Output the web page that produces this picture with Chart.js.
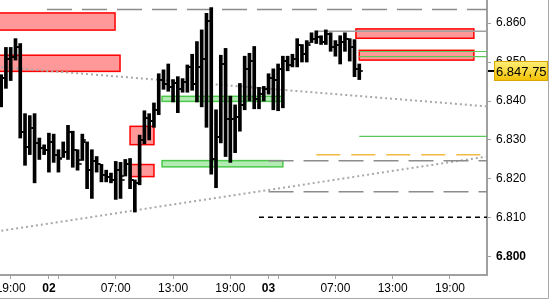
<!DOCTYPE html>
<html>
<head>
<meta charset="utf-8">
<script src="https://cdn.jsdelivr.net/npm/chart.js@4"></script>
<style>
  html, body { margin: 0; padding: 0; background: #fff; }
</style>
</head>
<body>
<canvas id="priceChart" width="550" height="300"></canvas>
<script>
// 30 minute bars, x = bar number (0 = 19:00 of day 01)
const barIndex = Array.from({ length: 76 }, (_, k) => k - 2);

const opens = [
  6840.5, 6846.0, 6850.75, 6851.25, 6853.75, 6832.0, 6828.25, 6833.0, 6829.25, 6828.0,
  6827.5, 6829.5, 6826.25, 6825.5, 6827.0, 6832.0, 6827.5, 6824.75, 6829.5, 6822.25,
  6824.5, 6823.75, 6821.0, 6820.5, 6819.75, 6822.25, 6820.75, 6823.75, 6819.75, 6819.0,
  6830.0, 6835.75, 6834.75, 6837.75, 6845.5, 6844.25, 6843.5, 6844.5, 6843.0, 6845.0,
  6848.75, 6844.25, 6848.75, 6850.75, 6860.5, 6825.0, 6830.75, 6849.5, 6835.5, 6835.5,
  6836.0, 6839.0, 6848.25, 6850.25, 6840.5, 6841.75, 6843.0, 6846.0, 6845.5, 6848.25,
  6850.25, 6849.25, 6850.75, 6854.5, 6852.0, 6855.0, 6856.0, 6856.5, 6855.25, 6857.25,
  6853.75, 6854.5, 6855.25, 6856.0, 6853.75, 6848.25
];
const highs = [
  6846.75, 6853.75, 6853.75, 6856.0, 6854.75, 6836.75, 6836.25, 6836.75, 6830.5, 6828.75,
  6831.75, 6831.5, 6827.5, 6829.5, 6833.75, 6832.25, 6827.5, 6831.5, 6829.5, 6827.5,
  6825.75, 6823.75, 6822.25, 6821.5, 6824.5, 6824.25, 6825.0, 6825.25, 6819.75, 6831.25,
  6837.5, 6836.75, 6839.5, 6847.0, 6848.0, 6849.5, 6845.5, 6846.25, 6845.75, 6849.25,
  6852.0, 6855.25, 6858.25, 6862.5, 6864.0, 6837.75, 6851.75, 6853.5, 6841.25, 6839.0,
  6844.5, 6851.5, 6852.25, 6854.0, 6843.5, 6843.75, 6847.0, 6848.25, 6849.5, 6851.5,
  6851.5, 6852.0, 6856.0, 6854.5, 6855.5, 6857.5, 6858.0, 6856.75, 6858.25, 6857.5,
  6855.5, 6856.75, 6857.5, 6856.0, 6855.75, 6849.5
];
const lows = [
  6838.5, 6843.25, 6845.25, 6850.5, 6830.5, 6823.5, 6826.25, 6819.0, 6825.0, 6826.25,
  6821.75, 6824.25, 6821.75, 6825.5, 6825.0, 6823.0, 6822.25, 6824.75, 6817.5, 6815.0,
  6821.75, 6819.25, 6819.25, 6819.0, 6814.75, 6815.0, 6820.75, 6817.5, 6811.5, 6818.5,
  6829.0, 6830.0, 6833.25, 6836.5, 6843.0, 6842.5, 6839.75, 6837.0, 6842.25, 6842.25,
  6842.75, 6839.75, 6838.5, 6833.25, 6821.25, 6817.75, 6829.25, 6825.75, 6824.25, 6826.75,
  6832.25, 6837.75, 6840.0, 6838.0, 6838.0, 6840.0, 6841.75, 6837.75, 6837.5, 6838.25,
  6847.75, 6848.75, 6848.75, 6850.0, 6850.0, 6855.0, 6854.75, 6854.5, 6854.5, 6852.75,
  6851.5, 6849.5, 6852.75, 6850.25, 6846.25, 6845.5
];
const closes = [
  6846.0, 6850.75, 6851.25, 6853.75, 6832.0, 6828.25, 6833.0, 6829.25, 6828.0, 6827.5,
  6829.5, 6826.25, 6825.0, 6827.0, 6832.0, 6827.5, 6823.75, 6830.0, 6822.25, 6824.5,
  6823.75, 6821.0, 6820.5, 6819.75, 6822.25, 6819.75, 6823.75, 6819.75, 6819.0, 6830.0,
  6835.75, 6834.75, 6837.75, 6845.5, 6844.25, 6843.5, 6844.5, 6843.0, 6845.0, 6848.75,
  6844.25, 6848.75, 6850.75, 6860.5, 6825.0, 6830.75, 6849.5, 6835.5, 6835.5, 6836.0,
  6839.0, 6848.25, 6850.25, 6840.5, 6841.75, 6843.0, 6846.0, 6845.5, 6848.25, 6850.25,
  6849.25, 6850.75, 6854.5, 6852.0, 6854.5, 6856.0, 6856.5, 6855.25, 6857.25, 6853.75,
  6854.5, 6855.25, 6856.0, 6853.75, 6848.25, 6847.75
];

// axis ticks
const yTicks = [6800, 6810, 6820, 6830, 6840, 6850, 6860];
const timeTicks = [0, 8, 10, 22, 34, 46, 54, 56, 68, 80, 92];
const timeLabels = ['19:00', '02', '', '07:00', '13:00', '19:00', '03', '', '07:00', '13:00', '19:00'];

// zones: [from bar, to bar, low, high]
const redZones = [
  [-3, 21.85, 6858.2, 6862.6],
  [-3, 22.9, 6847.6, 6851.75],
  [25, 30, 6828.8, 6833.5],
  [25, 30, 6820.6, 6823.7],
  [72.3, 97, 6856.1, 6858.5],
  [73, 97, 6850.5, 6853.0]
];
const greenZones = [
  [31.7, 57, 6839.9, 6841.2],
  [31.7, 57, 6823.1, 6824.7]
];

// horizontal levels: [from bar, to bar, price]
const grayDashLevels = [[7.6, 100, 6863.5], [54, 100, 6824.7], [54, 100, 6816.7]];
const orangeDashLevels = [[64, 98.7, 6826.2]];
const blackDashLevels = [[52, 100, 6810.2]];
const graySolidLevels = [[64, 100, 6857.9]];
const greenSolidLevels = [[73, 100, 6830.9], [73, 100, 6852.7], [73, 100, 6851.4]];

// dotted trend lines: [bar, price] pairs
const trendUpper = [[-3, 6848.8], [100, 6838.6]];
const trendLower = [[-3, 6806.5], [100, 6825.8]];

// small images for open/close ticks
function makeTick(side) {
    const c = document.createElement('canvas');
    c.width = 8;
    c.height = 2;
    const g = c.getContext('2d');
    g.fillStyle = '#000';
    g.fillRect(side === 'left' ? 0.5 : 5.5, 0, 2, 2);
    return c;
}
const openTick = makeTick('left');
const closeTick = makeTick('right');

function levelSet(levels, color, dash, width) {
    return levels.map(l => ({
        type: 'line',
        data: [{ x: l[0], y: l[2] }, { x: l[1], y: l[2] }],
        borderColor: color,
        borderWidth: width,
        borderDash: dash,
        pointRadius: 0,
        order: 2,
    }));
}

function trendSet(pts) {
    return {
        type: 'line',
        data: pts.map(p => ({ x: p[0], y: p[1] })),
        borderColor: '#a8a8a8',
        borderWidth: 2,
        borderDash: [2, 3],
        pointRadius: 0,
        order: 3,
    };
}

const zonesAndTag = {
    id: 'zonesAndTag',
    beforeDatasetsDraw(chart) {
        const { ctx, chartArea: a, scales: { x, y } } = chart;
        ctx.save();
        ctx.beginPath();
        ctx.rect(a.left, a.top, a.right - a.left, a.bottom - a.top);
        ctx.clip();
        const drawZone = (z, fill, stroke) => {
            const x0 = x.getPixelForValue(z[0]);
            const x1 = x.getPixelForValue(z[1]);
            const y0 = y.getPixelForValue(z[3]);
            const y1 = y.getPixelForValue(z[2]);
            ctx.fillStyle = fill;
            ctx.fillRect(x0, y0, x1 - x0, y1 - y0);
            ctx.strokeStyle = stroke;
            ctx.lineWidth = 1.5;
            ctx.strokeRect(x0, y0, x1 - x0, y1 - y0);
        };
        redZones.forEach(z => drawZone(z, '#ff9898', '#ff0000'));
        greenZones.forEach(z => drawZone(z, '#b2ecb2', '#4cc84c'));
        ctx.restore();
    },
    afterDraw(chart) {
        const { ctx, chartArea: a, scales: { y } } = chart;
        const last = closes[closes.length - 1];
        const py = Math.round(y.getPixelForValue(last));
        ctx.save();
        // last price tag
        const grad = ctx.createLinearGradient(0, py - 10, 0, py + 10);
        grad.addColorStop(0, '#fff07a');
        grad.addColorStop(1, '#f2c000');
        ctx.fillStyle = grad;
        ctx.fillRect(a.right + 7, py - 10, 54, 20);
        ctx.strokeStyle = '#d8a800';
        ctx.lineWidth = 1;
        ctx.strokeRect(a.right + 7.5, py - 9.5, 53, 19);
        ctx.fillStyle = '#000';
        ctx.fillRect(a.right + 1, py - 1, 6, 2);
        ctx.font = '13px "Liberation Sans", Arial, sans-serif';
        ctx.textBaseline = 'middle';
        ctx.fillText(last.toLocaleString('de-DE', { minimumFractionDigits: 2 }), a.right + 9, py + 1);
        // outer frame
        ctx.strokeStyle = '#a8a8a8';
        ctx.beginPath();
        ctx.moveTo(548.5, 0);
        ctx.lineTo(548.5, 298.5);
        ctx.lineTo(0, 298.5);
        ctx.stroke();
        ctx.restore();
    }
};

const ctx = document.getElementById('priceChart');

new Chart(ctx, {
    type: 'bar',
    data: {
        datasets: [
            {
                type: 'bar',
                data: barIndex.map((v, k) => ({ x: v, y: [lows[k], highs[k]] })),
                backgroundColor: '#000',
                barThickness: 3,
                order: 0,
            },
            {
                type: 'line',
                data: barIndex.map((v, k) => ({ x: v, y: opens[k] })),
                showLine: false,
                pointStyle: openTick,
                pointRadius: 2,
                order: 0,
            },
            {
                type: 'line',
                data: barIndex.map((v, k) => ({ x: v, y: closes[k] })),
                showLine: false,
                pointStyle: closeTick,
                pointRadius: 2,
                order: 0,
            },
            trendSet(trendUpper),
            trendSet(trendLower),
            ...levelSet(grayDashLevels, '#8c8c8c', [25, 10], 1.5),
            ...levelSet(orangeDashLevels, '#f4b942', [24, 11], 1.5),
            ...levelSet(blackDashLevels, '#000', [5, 4], 1.5),
            ...levelSet(graySolidLevels, '#a0a0a0', [], 1.5),
            ...levelSet(greenSolidLevels, '#5cc85c', [], 1.2),
        ],
    },
    options: {
        responsive: false,
        animation: false,
        layout: { padding: 0, autoPadding: false },
        plugins: {
            legend: { display: false },
            tooltip: { enabled: false },
        },
        scales: {
            x: {
                type: 'linear',
                offset: false,
                min: -2.24,
                max: 99.75,
                grid: { offset: false, drawOnChartArea: false, drawTicks: true, tickLength: 4, color: '#a0a0a0' },
                border: { display: true, color: '#a0a0a0', width: 2 },
                afterBuildTicks: (scale) => {
                    scale.ticks = timeTicks.map(v => ({ value: v }));
                },
                afterFit: (scale) => {
                    scale.height = 25;
                    scale.paddingLeft = 0;
                    scale.paddingRight = 0;
                },
                ticks: {
                    autoSkip: false,
                    maxRotation: 0,
                    padding: 2,
                    color: '#000',
                    font: (c) => {
                        const lbl = c.tick ? timeLabels[timeTicks.indexOf(c.tick.value)] : '';
                        return { family: '"Liberation Sans", Arial, sans-serif', size: 12, weight: lbl && lbl.length === 2 ? 'bold' : 'normal' };
                    },
                    callback: (v) => timeLabels[timeTicks.indexOf(v)],
                },
            },
            y: {
                type: 'linear',
                position: 'right',
                min: 6795.35,
                max: 6865.92,
                grid: { drawOnChartArea: false, drawTicks: true, tickLength: 4, color: '#a0a0a0' },
                border: { display: true, color: '#a0a0a0', width: 2 },
                afterBuildTicks: (scale) => {
                    scale.ticks = yTicks.map(v => ({ value: v }));
                },
                afterFit: (scale) => {
                    scale.width = 63;
                    scale.paddingTop = 0;
                    scale.paddingBottom = 0;
                },
                ticks: {
                    padding: 5,
                    color: '#000',
                    font: (c) => ({
                        family: '"Liberation Sans", Arial, sans-serif',
                        size: 12,
                        weight: c.tick && c.tick.value === 6800 ? 'bold' : 'normal',
                    }),
                    callback: (v) => v.toLocaleString('de-DE'),
                },
            },
        },
    },
    plugins: [zonesAndTag],
});
</script>
</body>
</html>
